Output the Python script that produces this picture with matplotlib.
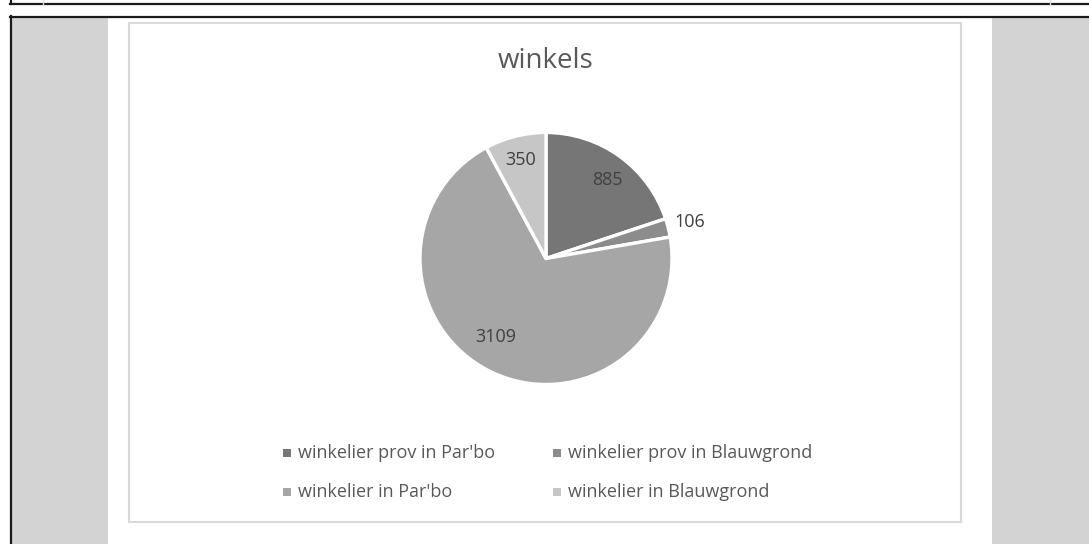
import matplotlib
matplotlib.use("Agg")
import matplotlib.pyplot as plt
from matplotlib.patches import Rectangle
import numpy as np

# data
categories = ["winkelier prov in Par'bo", "winkelier prov in Blauwgrond",
              "winkelier in Par'bo", "winkelier in Blauwgrond"]
values = [885, 106, 3109, 350]
slice_colors = ["#767676", "#8c8c8c", "#a6a6a6", "#c6c6c6"]
title = "winkels"

plt.rcParams['font.family'] = ['Open Sans', 'DejaVu Sans']

W, H = 1089, 544
fig = plt.figure(figsize=(W / 100, H / 100), dpi=100)

# overlay axes in pixel coordinates (y downwards)
bg = fig.add_axes([0, 0, 1, 1])
bg.set_xlim(0, W)
bg.set_ylim(H, 0)
bg.axis("off")

# page surroundings
bg.add_patch(Rectangle((11, 17), 97, H - 17, color="#d3d3d3", lw=0))
bg.add_patch(Rectangle((992, 17), W - 992, H - 17, color="#d3d3d3", lw=0))
bg.plot([10, W], [4, 4], color="#1a1a1a", lw=1.6)
bg.plot([10.5, 10.5], [0, 4], color="#1a1a1a", lw=1.6)
bg.plot([43, 43], [0, 3.5], color="#dddddd", lw=1)
bg.plot([1050, 1050], [0, 3.5], color="#dddddd", lw=1)
bg.plot([10, W], [16.5, 16.5], color="#1a1a1a", lw=1.6)
bg.plot([10.5, 10.5], [16, H], color="#1a1a1a", lw=1.6)

# chart area border
bg.add_patch(Rectangle((129, 23), 832, 499, fill=False, ec="#d9d9d9", lw=1.5))

bg.text(546, 61, title, ha="center", va="center", fontsize=20, color="#595959")

# pie
cx, cy, r = 546, 258.5, 126
pax = fig.add_axes([(cx - r) / W, (H - cy - r) / H, 2 * r / W, 2 * r / H])
wedges, _ = pax.pie(values, colors=slice_colors, startangle=90, counterclock=False,
                    wedgeprops=dict(edgecolor="white", linewidth=2.4))
pax.set_xlim(-1, 1)
pax.set_ylim(-1, 1)
pax.set_aspect("equal")

# label distance and small angle nudge per slice
label_dist = [0.79, 1.18, 0.74, 0.81]
label_nudge = [-2, 0, -7, 0]
for w, v, d, n in zip(wedges, values, label_dist, label_nudge):
    ang = np.deg2rad((w.theta1 + w.theta2) / 2 + n)
    pax.text(d * np.cos(ang), d * np.sin(ang), str(v), ha="center", va="center",
             fontsize=13, color="#404040", clip_on=False)

# legend
col_x = [287, 557]
row_y = [453, 492]
for i, (lab, c) in enumerate(zip(categories, slice_colors)):
    row, col = divmod(i, 2)
    bg.scatter(col_x[col], row_y[row], marker="s", s=28, color=c, lw=0)
    bg.text(col_x[col] + 11, row_y[row], lab, ha="left", va="center",
            fontsize=13, color="#595959")

fig.savefig("out.png", dpi=100)
